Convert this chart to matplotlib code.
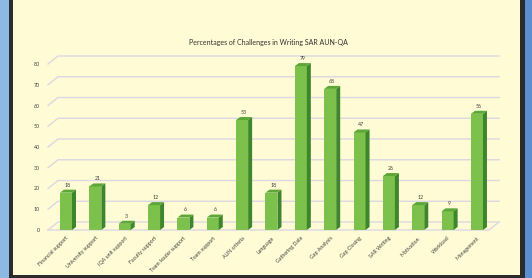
import matplotlib
matplotlib.use("Agg")
import matplotlib.pyplot as plt
from matplotlib.patches import Rectangle, Polygon
from matplotlib.lines import Line2D

# chart data
categories = ["Financial support", "University support", "IQA unit support", "Faculty support",
              "Team leader support", "Team support", "AUN criteria", "Language",
              "Gathering Data", "Gap Analysis", "Gap Closing", "SAR Writing",
              "Motivation", "Workload", "Management"]
values = [18, 21, 3, 12, 6, 6, 53, 18, 79, 68, 47, 26, 12, 9, 56]
y_ticks = [0, 10, 20, 30, 40, 50, 60, 70, 80]
title = "Percentages of Challenges in Writing SAR AUN-QA"

# colours
CREAM = "#FFFBD4"
FRONT = "#7CC14B"
SIDE = "#3D862C"
TOP = "#5CA738"
GRID = "#DAD8E4"
TEXT = "#404040"

W, H = 532, 278
fig = plt.figure(figsize=(W / 100, H / 100), dpi=100)
fig.patch.set_facecolor("#8CB9E4")

# frame: blue outside, dark border, cream panel
fig.patches.append(Rectangle((9 / W, 0), 516 / W, 1, transform=fig.transFigure,
                             facecolor="#2B2B2B", edgecolor="none", zorder=-3))
fig.patches.append(Rectangle((525 / W, 0), 7 / W, 1, transform=fig.transFigure,
                             facecolor="#5B8ED1", edgecolor="none", zorder=-2))
fig.patches.append(Rectangle((13 / W, 3 / H), 507 / W, 1, transform=fig.transFigure,
                             facecolor=CREAM, edgecolor="none", zorder=-1))

# front plane of the pseudo-3D chart
ax = fig.add_axes([48 / W, (H - 230) / H, 441 / W, 166 / H])
ax.set_facecolor("none")
for s in ax.spines.values():
    s.set_visible(False)
x = list(range(len(categories)))
ax.set_xlim(-0.613, 14.41)
ax.set_ylim(0, 80)

# pixel -> data scale
px_x = 441 / (14.41 + 0.613)
px_y = 166 / 80.0

# wall depth and bar depth in pixels
wall_dx, wall_dy = 10, 8
bar_dx, bar_dy = 4, 3

x0, x1 = ax.get_xlim()
wdx, wdy = wall_dx / px_x, wall_dy / px_y
for v in y_ticks:
    ax.add_line(Line2D([x0, x0 + wdx, x1 + wdx], [v, v + wdy, v + wdy],
                       color=GRID, lw=1.0, zorder=1, clip_on=False))
# floor front edge
ax.add_line(Line2D([x0, x1, x1 + wdx], [0, 0, wdy], color=GRID, lw=1.0, zorder=1, clip_on=False))

bw = 12 / px_x
bdx, bdy = bar_dx / px_x, bar_dy / px_y
ax.bar(x, values, width=bw, color=FRONT, edgecolor="none", zorder=3)
for xi, v in zip(x, values):
    r = xi + bw / 2
    l = xi - bw / 2
    ax.add_patch(Polygon([(r, 0), (r, v), (r + bdx, v + bdy), (r + bdx, bdy)],
                         closed=True, facecolor=SIDE, edgecolor="none", zorder=3, clip_on=False))
    ax.add_patch(Polygon([(l, v), (r, v), (r + bdx, v + bdy), (l + bdx, v + bdy)],
                         closed=True, facecolor=TOP, edgecolor="none", zorder=3, clip_on=False))
    ax.text(xi + bdx / 2, v + bdy + 1.0, str(v), ha="center", va="bottom",
            fontsize=3.8, color=TEXT, family="Lato", zorder=4)

ax.set_yticks(y_ticks)
ax.set_yticklabels([str(t) for t in y_ticks], fontsize=3.8, color=TEXT, family="Lato")
ax.set_xticks(x)
ax.set_xticklabels(categories, rotation=45, ha="right", va="top", rotation_mode="anchor",
                   fontsize=3.8, color=TEXT, family="Lato")
ax.tick_params(axis="both", length=0)
ax.tick_params(axis="y", pad=6)
ax.tick_params(axis="x", pad=4)

fig.text(268 / W, 1 - 42 / H, title, ha="center", va="center",
         fontsize=5.0, color="#333333", family="Lato")

fig.savefig("out.png", dpi=100, facecolor=fig.get_facecolor())
